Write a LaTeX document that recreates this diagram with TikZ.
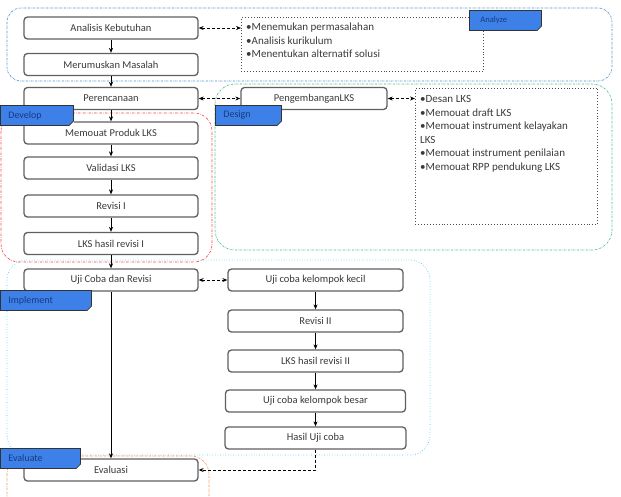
\documentclass[tikz,border=0pt]{standalone}
\usepackage{fontspec}
\setmainfont{Carlito}
\usetikzlibrary{arrows.meta}
\definecolor{tagfill}{HTML}{3D80E8}
\definecolor{tagtext}{HTML}{1A3A80}
\definecolor{boxline}{HTML}{606060}
\definecolor{txt}{HTML}{3A3A3A}
\definecolor{regA}{HTML}{4A90C8}
\definecolor{regDev}{HTML}{F04040}
\definecolor{regDes}{HTML}{40C080}
\definecolor{regImp}{HTML}{40D0E8}
\definecolor{regEv}{HTML}{F09050}
\tikzset{
  box/.style={draw=boxline, line width=1.3pt, rounded corners=3.5pt, fill=white,
    minimum height=22pt, inner sep=0pt, font=\fontsize{10.5}{11}\selectfont, text=txt},
  bulbox/.style={draw=black!70, dotted, line width=0.9pt, inner sep=0pt},
  bultext/.style={anchor=north west, align=left, inner sep=0pt, text=txt,
    font=\fontsize{11}{13.5}\selectfont},
  tagbox/.style={draw=black!80, line width=0.8pt, fill=tagfill, inner sep=0pt,
    minimum height=20pt, text=tagtext, font=\fontsize{10}{11}\selectfont, anchor=north west},
  arr/.style={-{Stealth[length=5pt,width=4pt]}, line width=0.6pt, black},
  darr/.style={{Stealth[length=5pt,width=4pt]}-{Stealth[length=5pt,width=4pt]}, densely dashed, line width=0.7pt, black},
  sarr/.style={-{Stealth[length=5pt,width=4pt]}, densely dashed, line width=0.7pt, black},
  region/.style={line width=0.6pt, rounded corners=14pt},
}
\begin{document}
\begin{tikzpicture}[x=1pt,y=-1pt]
\useasboundingbox (0,0) rectangle (621,496);
\clip (0,0) rectangle (621,496);
% regions
\draw[region, regA, dash pattern=on 2pt off 1pt on 0.5pt off 1pt] (7,8) rectangle (612,81);
\draw[region, regDes, dash pattern=on 2pt off 1pt on 0.5pt off 1pt, rounded corners=20pt] (215,84) rectangle (612,250);
\draw[region, regDev, dash pattern=on 2.5pt off 1.2pt on 0.5pt off 1.2pt, rounded corners=18pt] (1,113) rectangle (212,262);
\draw[region, regImp, dotted, line width=0.8pt, rounded corners=20pt] (7,260) rectangle (430,455);
\draw[region, regEv, dash pattern=on 2pt off 1pt on 0.5pt off 1pt, rounded corners=18pt] (7,456) rectangle (209,520);
% left column
\node[box, minimum width=174pt] (ak) at (111,28) {Analisis Kebutuhan};
\node[box, minimum width=174pt] (mm) at (111,64.5) {Merumuskan Masalah};
\node[box, minimum width=174pt] (pr) at (111,98.5) {Perencanaan};
\node[box, minimum width=174pt] (mp) at (111,133) {Memouat Produk LKS};
\node[box, minimum width=174pt] (vl) at (111,168) {Validasi LKS};
\node[box, minimum width=174pt] (r1) at (111,206) {Revisi I};
\node[box, minimum width=174pt] (h1) at (111,243.5) {LKS hasil revisi I};
\node[box, minimum width=174pt] (ucr) at (111,280) {Uji Coba dan Revisi};
\node[box, minimum width=174pt] (ev) at (111,470) {Evaluasi};
% right column
\node[box, minimum width=146pt] (pl) at (314,98.5) {PengembanganLKS};
\node[box, minimum width=175pt] (kk) at (315.5,280) {Uji coba kelompok kecil};
\node[box, minimum width=175pt] (r2) at (315.5,321) {Revisi II};
\node[box, minimum width=175pt] (h2) at (315.5,361) {LKS hasil revisi II};
\node[box, minimum width=180pt] (kb) at (315.5,401) {Uji coba kelompok besar};
\node[box, minimum width=181pt] (hu) at (315.5,438) {Hasil Uji coba};
% bullet boxes
\node[bulbox, minimum width=242pt, minimum height=54pt, anchor=north west] (b1) at (241,17) {};
\node[bultext] (b1t) at (246,23) {•Menemukan permasalahan\\•Analisis kurikulum\\•Menentukan alternatif solusi};
\node[bulbox, minimum width=182pt, minimum height=136pt, anchor=north west] (b2) at (415,88) {};
\node[bultext] (b2t) at (420,95.5) {•Desan LKS\\•Memouat draft LKS\\•Memouat instrument kelayakan\\LKS\\•Memouat instrument penilaian\\•Memouat RPP pendukung LKS};
% connectors
\draw[arr] (ak) -- (mm);
\draw[arr] (mm) -- (pr);
\draw[arr] (pr) -- (mp);
\draw[arr] (mp) -- (vl);
\draw[arr] (vl) -- (r1);
\draw[arr] (r1) -- (h1);
\draw[arr] (h1) -- (ucr);
\draw[arr] (ucr) -- (ev);
\draw[arr] (kk) -- (r2);
\draw[arr] (r2) -- (h2);
\draw[arr] (h2) -- (kb);
\draw[arr] (kb) -- (hu);
\draw[darr] (ak.east) -- (b1.west |- ak.east);
\draw[darr] (pr) -- (pl);
\draw[darr] (pl) -- (b2.west |- pl.east);
\draw[darr] (ucr) -- (kk);
\draw[sarr] (hu.south) |- (ev.east);
% tags
\node[tagbox, minimum width=72pt, text width=62pt, align=left, font=\fontsize{8.5}{9}\selectfont] (tA) at (469,10) {\hspace*{6pt}Analyze};
\node[tagbox, minimum width=73pt, text width=65pt, align=left] (tDev) at (0,105) {\hspace*{4pt}Develop};
\node[tagbox, minimum width=66pt, text width=58pt, align=left] (tDes) at (215,105) {\hspace*{4pt}Design};
\node[tagbox, minimum width=91pt, text width=83pt, align=left] (tImp) at (0,290) {\hspace*{4pt}Implement};
\node[tagbox, minimum width=80pt, text width=72pt, align=left] (tEv) at (0,448) {\hspace*{4pt}Evaluate};
\foreach \t in {tA,tDev,tDes,tImp,tEv}{
  \fill[white] (\t.south east) -- ++(-5,0) -- ++(5,-5) -- cycle;
  \draw[black!80, line width=0.8pt] ([xshift=-5pt]\t.south east) -- ([yshift=5pt]\t.south east);
}
\end{tikzpicture}
\end{document}
